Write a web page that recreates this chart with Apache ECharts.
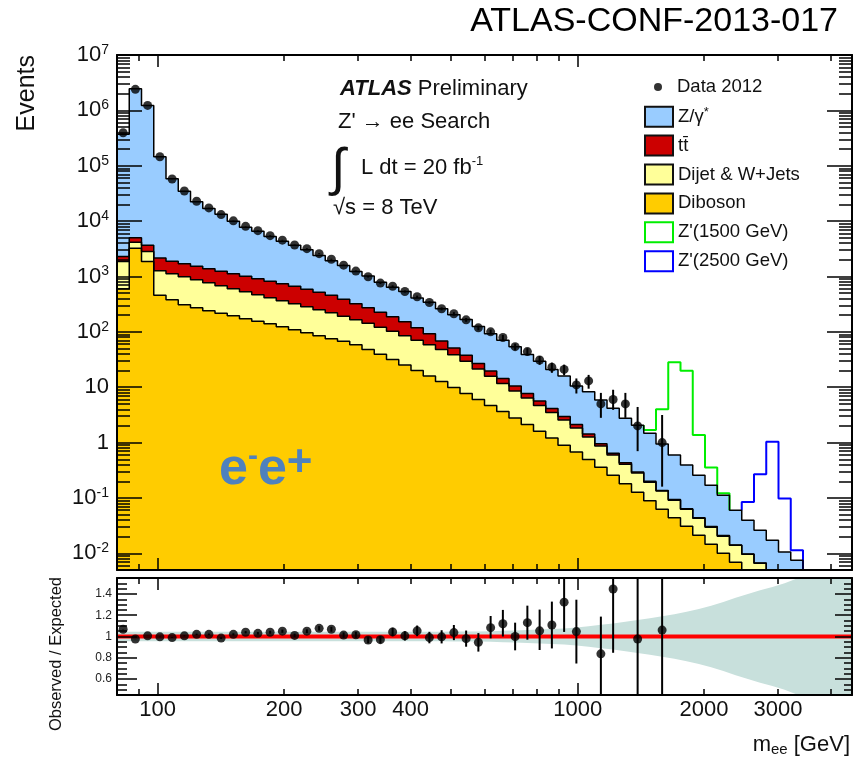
<!DOCTYPE html>
<html>
<head>
<meta charset="utf-8">
<script src="https://cdn.jsdelivr.net/npm/echarts@6/dist/echarts.min.js"></script>
<style>
html, body { margin: 0; padding: 0; background: #fff; }
#chart { width: 856px; height: 764px; }
</style>
</head>
<body>
<div id="chart"></div>
<script>
// ---- binning: 60 log-uniform bins in m_ee between 80 and 4500 GeV ----
const massRange = [80, 4500];
const nBins = 60;
const binEdges = Array.from({ length: nBins + 1 }, (_, i) =>
  massRange[0] * Math.pow(massRange[1] / massRange[0], i / nBins));
const binCenters = binEdges.slice(0, nBins).map((e, i) => Math.sqrt(e * binEdges[i + 1]));

// ---- observed events per bin (null = empty bin) ----
const dataObs = [394000, 2395000, 1230000, 145000, 57500, 34900, 22800, 17300, 13100, 10100,
  8050, 6730, 5460, 4530, 3710, 3180, 2580, 2050, 1600, 1250,
  990, 760, 665, 536, 430, 339, 261, 212, 165, 118,
  100, 79, 54, 44, 31, 23, 21, 11, 13, 5,
  6, 5, 2, null, 1, null, null, null, null, null,
  null, null, null, null, null, null, null, null, null, null];
const dataErrDown = [628, 1548, 1109, 381, 240, 187, 151, 132, 114, 100,
  90, 82, 74, 67, 61, 56, 51, 45, 40, 35,
  31, 28, 26, 23, 21, 18, 16, 15, 13, 11,
  10, 9, 7.3, 6.6, 5.6, 4.8, 4.6, 3.3, 3.6, 2.2,
  2.1, 2.2, 1.3, null, 0.84, null, null, null, null, null,
  null, null, null, null, null, null, null, null, null, null];
const dataErrUp = [628, 1548, 1109, 381, 240, 187, 151, 132, 114, 100,
  90, 82, 74, 67, 61, 56, 51, 45, 40, 35,
  31, 28, 26, 23, 21, 18, 16, 15, 13, 11,
  10, 9, 7.3, 6.6, 5.6, 4.8, 4.6, 3.4, 3.7, 2.9,
  3.0, 2.9, 2.4, null, 2.15, null, null, null, null, null,
  null, null, null, null, null, null, null, null, null, null];

// ---- expected background, cumulative stack heights per bin ----
// Z/gamma* + ttbar + dijet/W+jets + diboson
const stackTotal = [369000, 2454000, 1223000, 145400, 58100, 34700, 22350, 16960, 13300, 9900,
  7740, 6530, 5250, 4310, 3670, 3030, 2395, 1920, 1580, 1230,
  1024, 784, 638, 533, 408, 342, 262, 204, 168, 125,
  92, 70.5, 54, 39, 29.4, 20.8, 15.9, 10.5, 8.3, 5.88,
  4.16, 2.74, 2.05, 1.47, 0.94, 0.594, 0.392, 0.258, 0.170, 0.112,
  0.060, 0.0396, 0.0261, 0.0172, 0.01057, 0.00748, 0.004, 0.0025, 0.0015, 0.001];
// ttbar + dijet/W+jets + diboson
const stackTtbar = [2305, 5025, 3675, 2157, 1888, 1702, 1532, 1381, 1245, 1122,
  1010, 910, 820, 739, 666, 587, 519, 458, 387, 321,
  272, 225, 187, 152, 118, 92, 68.7, 51.3, 37.6, 26.9,
  19.7, 14.4, 10.5, 7.71, 5.64, 4.13, 2.96, 2.12, 1.43, 0.953,
  0.641, 0.434, 0.294, 0.200, 0.137, 0.0935, 0.064, 0.0438, 0.0305, 0.0209,
  0.0142, 0.0097, 0.0067, 0.0046, 0.0032, 0.0022, 0.0015, 0.001, 0.0007, 0.0005];
// dijet/W+jets + diboson
const stackDijet = [1870, 4170, 2840, 1270, 1122, 989, 873, 771, 680, 600,
  529, 468, 412, 364, 321, 283, 250, 221, 191, 165,
  143, 121, 102, 84.7, 70.2, 58.2, 48.2, 38.4, 29.3, 21.4,
  15.7, 11.7, 8.55, 6.39, 4.68, 3.49, 2.56, 1.83, 1.26, 0.865,
  0.594, 0.408, 0.281, 0.193, 0.133, 0.0912, 0.0627, 0.0431, 0.0296, 0.0203,
  0.0140, 0.0096, 0.0066, 0.0045, 0.0031, 0.0021, 0.0015, 0.001, 0.0007, 0.0005];
// diboson
const stackDiboson = [600, 3240, 1870, 458, 379, 308, 272, 240, 216, 195,
  172, 155, 140, 123, 109, 96, 84.7, 74.7, 67.3, 58.2,
  48.2, 39.2, 31.8, 25.3, 20.1, 16.0, 12.7, 9.9, 7.7, 6.0,
  4.68, 3.64, 2.78, 2.12, 1.61, 1.21, 0.90, 0.673, 0.493, 0.360,
  0.258, 0.181, 0.127, 0.0893, 0.0627, 0.0440, 0.0308, 0.0212, 0.0146, 0.0100,
  0.00689, 0.0047, 0.0032, 0.0022, 0.0015, 0.001, 0.0007, 0.0005, 0.0003, 0.0002];

// ---- Z' signal events on top of the background (null = no signal) ----
const zPrime1500 = [...Array(43).fill(null), 0.22, 3.05, 27.7, 19.5, 1.11, 0.186, 0.01, ...Array(10).fill(null)];
const zPrime2500 = [...Array(51).fill(null), 0.045, 0.243, 1.018, 0.087, 0.0039, ...Array(4).fill(null)];

// ---- ratio panel ----
const ratioObsExp = [1.068, 0.976, 1.006, 0.997, 0.99, 1.006, 1.02, 1.02, 0.985, 1.02,
  1.04, 1.03, 1.04, 1.05, 1.01, 1.05, 1.077, 1.068, 1.013, 1.016,
  0.967, 0.97, 1.043, 1.006, 1.053, 0.99, 0.997, 1.037, 0.98, 0.945,
  1.083, 1.12, 1.0, 1.13, 1.053, 1.108, 1.323, 1.046, null, 0.837,
  1.447, null, 0.976, null, 1.06, null, null, null, null, null,
  null, null, null, null, null, null, null, null, null, null];
const ratioErrDown = [0.002, 0.001, 0.001, 0.003, 0.004, 0.005, 0.007, 0.008, 0.009, 0.01,
  0.011, 0.012, 0.014, 0.015, 0.017, 0.018, 0.021, 0.023, 0.025, 0.028,
  0.031, 0.035, 0.04, 0.044, 0.05, 0.054, 0.062, 0.071, 0.076, 0.087,
  0.10, 0.12, 0.13, 0.16, 0.18, 0.22, 0.28, 0.30, null, 0.40,
  0.60, null, 0.63, null, 0.90, null, null, null, null, null,
  null, null, null, null, null, null, null, null, null, null];
const ratioErrUp = [0.002, 0.001, 0.001, 0.003, 0.004, 0.005, 0.007, 0.008, 0.009, 0.01,
  0.011, 0.012, 0.014, 0.015, 0.017, 0.018, 0.021, 0.023, 0.025, 0.028,
  0.031, 0.035, 0.04, 0.044, 0.05, 0.054, 0.062, 0.071, 0.076, 0.087,
  0.11, 0.13, 0.13, 0.16, 0.20, 0.22, 0.30, 0.30, null, 0.35,
  0.60, null, 1.30, null, 2.40, null, null, null, null, null,
  null, null, null, null, null, null, null, null, null, null];
// half-width of the systematic uncertainty band around 1
const systHalfWidth = [0.045, 0.045, 0.045, 0.045, 0.045, 0.045, 0.045, 0.045, 0.045, 0.045,
  0.045, 0.045, 0.045, 0.045, 0.045, 0.045, 0.045, 0.045, 0.045, 0.045,
  0.045, 0.045, 0.045, 0.045, 0.045, 0.045, 0.045, 0.046, 0.047, 0.048,
  0.05, 0.053, 0.056, 0.06, 0.065, 0.07, 0.075, 0.085, 0.097, 0.11,
  0.123, 0.138, 0.155, 0.172, 0.19, 0.21, 0.233, 0.258, 0.29, 0.325,
  0.365, 0.4, 0.435, 0.465, 0.5, 0.545, 0.59, 0.64, 0.69, 0.74];

// ---- axis ticks and labels ----
const eventDecades = [0.01, 0.1, 1, 10, 100, 1e3, 1e4, 1e5, 1e6, 1e7];
const eventRange = [0.005, 1e7];
const massLabels = [100, 200, 300, 400, 1000, 2000, 3000];
const massMajorTicks = [100, 1000];
const massMinorTicks = [90, 200, 300, 400, 500, 600, 700, 800, 900, 2000, 3000, 4000];
const ratioRange = [0.45, 1.55];
const ratioLabels = [0.6, 0.8, 1, 1.2, 1.4];

const eventMinorTicks = [];
for (let e = -3; e < 7; e++) {
  for (let k = 2; k <= 9; k++) {
    const v = +(k * Math.pow(10, e)).toPrecision(6);
    if (v >= eventRange[0] && v <= eventRange[1]) eventMinorTicks.push(v);
  }
}
const ratioMinorTicks = [];
for (let k = 10; k <= 30; k++) {
  const v = +(k * 0.05).toFixed(2);
  if (!ratioLabels.includes(v)) ratioMinorTicks.push(v);
}

// ---- helpers ----
const FONT = '"Liberation Sans", Arial, Helvetica, sans-serif';

function histPoints(values) {
  const pts = values.map((v, i) => [binEdges[i], v]);
  pts.push([binEdges[nBins], values[nBins - 1]]);
  return pts;
}
function signalPoints(sig) {
  const idx = sig.map((v, i) => (v == null ? -1 : i)).filter(i => i >= 0);
  const first = idx[0], last = idx[idx.length - 1];
  const pts = [[binEdges[first], stackTotal[first - 1]]];
  for (let i = first; i <= last; i++) pts.push([binEdges[i], stackTotal[i] + sig[i]]);
  pts.push([binEdges[last + 1], stackTotal[last] + sig[last]]);
  pts.push([binEdges[last + 1], stackTotal[last + 1]]);
  return pts;
}
function bandEdge(sign) {
  const pts = binCenters.map((x, i) => [x, 1 + sign * systHalfWidth[i]]);
  pts.unshift([massRange[0], 1 + sign * systHalfWidth[0]]);
  pts.push([massRange[1], 1 + sign * systHalfWidth[nBins - 1]]);
  return pts;
}
function errorBarItems(values, down, up) {
  const out = [];
  values.forEach((v, i) => {
    if (v != null && down[i] != null) out.push([binCenters[i], v - down[i], v + up[i]]);
  });
  return out;
}
function renderErrorBar(params, api) {
  const x = api.value(0);
  const lo = api.coord([x, Math.max(api.value(1), 1e-6)]);
  const hi = api.coord([x, api.value(2)]);
  const cs = params.coordSys;
  const clampY = y => Math.min(Math.max(y, cs.y), cs.y + cs.height);
  return {
    type: 'line',
    shape: { x1: lo[0], y1: clampY(lo[1]), x2: hi[0], y2: clampY(hi[1]) },
    style: { stroke: '#000', lineWidth: 2 }
  };
}

const tickStyle = { color: '#000', width: 1.5 };
function massAxis(grid, position, ticks, len, extra) {
  return Object.assign({
    type: 'log', logBase: 10, gridIndex: grid, position: position,
    min: massRange[0], max: massRange[1], z: 10,
    axisLine: { show: false, onZero: false },
    splitLine: { show: false }, minorTick: { show: false }, minorSplitLine: { show: false },
    axisTick: { show: true, inside: true, length: len, customValues: ticks, lineStyle: tickStyle },
    axisLabel: { show: false }
  }, extra || {});
}
const frameLine = { show: true, onZero: false, lineStyle: { color: '#000', width: 2 } };

function eventAxis(position, ticks, len, extra) {
  return Object.assign({
    type: 'log', logBase: 10, gridIndex: 0, position: position,
    min: eventRange[0], max: eventRange[1], z: 10,
    axisLine: { show: false, onZero: false },
    splitLine: { show: false }, minorTick: { show: false }, minorSplitLine: { show: false },
    axisTick: { show: true, inside: true, length: len, customValues: ticks, lineStyle: tickStyle },
    axisLabel: { show: false }
  }, extra || {});
}
function ratioAxis(position, ticks, len, extra) {
  return Object.assign({
    type: 'value', gridIndex: 1, position: position,
    min: ratioRange[0], max: ratioRange[1], z: 10,
    axisLine: { show: false, onZero: false },
    splitLine: { show: false },
    axisTick: { show: true, inside: true, length: len, customValues: ticks, lineStyle: tickStyle },
    axisLabel: { show: false }
  }, extra || {});
}

const stackLine = { color: '#000', width: 1.5 };
function stackSeries(name, values, fill) {
  return {
    name: name, type: 'line', xAxisIndex: 0, yAxisIndex: 0, z: 2,
    data: histPoints(values), step: 'end', showSymbol: false, symbol: 'none',
    lineStyle: stackLine, itemStyle: { color: fill },
    areaStyle: { color: fill, opacity: 1, origin: 'start' }, silent: true
  };
}

const chart = echarts.init(document.getElementById('chart'));

const option = {
  animation: false,
  backgroundColor: '#fff',
  textStyle: { fontFamily: FONT },
  grid: [
    { left: 117, top: 55, width: 735, height: 515 },
    { left: 117, top: 578, width: 735, height: 117 }
  ],
  xAxis: [
    massAxis(0, 'bottom', massMajorTicks, 12, { axisLine: frameLine }),
    massAxis(0, 'bottom', massMinorTicks, 6),
    massAxis(0, 'top', massMajorTicks, 12, { axisLine: frameLine }),
    massAxis(0, 'top', massMinorTicks, 6),
    massAxis(1, 'bottom', massMajorTicks, 12, {
      axisLine: frameLine,
      axisLabel: {
        show: true, customValues: massLabels, margin: 4,
        formatter: v => String(Math.round(v)),
        fontSize: 22, color: '#111', fontFamily: FONT
      }
    }),
    massAxis(1, 'bottom', massMinorTicks, 6),
    massAxis(1, 'top', massMajorTicks, 12, { axisLine: frameLine }),
    massAxis(1, 'top', massMinorTicks, 6)
  ],
  yAxis: [
    eventAxis('left', eventDecades, 25, {
      axisLine: frameLine,
      axisLabel: {
        show: true, customValues: eventDecades, margin: 8,
        fontSize: 22, lineHeight: 24, color: '#111', fontFamily: FONT,
        formatter: v => {
          const e = Math.round(Math.log10(v));
          if (e === 0) return '1';
          if (e === 1) return '10';
          return '10{sup|' + e + '}';
        },
        rich: { sup: { fontSize: 14, verticalAlign: 'top', color: '#111', fontFamily: FONT } }
      }
    }),
    eventAxis('left', eventMinorTicks, 13),
    eventAxis('right', eventDecades, 25, { axisLine: frameLine }),
    eventAxis('right', eventMinorTicks, 13),
    ratioAxis('left', ratioLabels, 20, {
      axisLine: frameLine,
      axisLabel: {
        show: true, customValues: ratioLabels, margin: 5,
        fontSize: 12, color: '#222', fontFamily: FONT,
        formatter: v => String(+v.toFixed(1))
      }
    }),
    ratioAxis('left', ratioMinorTicks, 10),
    ratioAxis('right', ratioLabels, 17, { axisLine: frameLine }),
    ratioAxis('right', ratioMinorTicks, 8)
  ],
  legend: [
    {
      data: [{ name: 'Data 2012', icon: 'circle', itemStyle: { color: '#000', borderWidth: 0 } }],
      left: 654, top: 76, orient: 'vertical', padding: 0,
      itemWidth: 8, itemHeight: 8,
      textStyle: { fontSize: 18.5, lineHeight: 22, color: '#111', fontFamily: FONT, padding: [0, 0, 0, 10] },
      selectedMode: false
    },
    {
      data: [
        { name: 'Z/γ*', icon: 'rect', itemStyle: { color: '#99ccff', borderColor: '#111', borderWidth: 2 } },
        { name: 'tt\u0304', icon: 'rect', itemStyle: { color: '#cc0000', borderColor: '#111', borderWidth: 2 } },
        { name: 'Dijet & W+Jets', icon: 'rect', itemStyle: { color: '#ffff99', borderColor: '#111', borderWidth: 2 } },
        { name: 'Diboson', icon: 'rect', itemStyle: { color: '#ffcc00', borderColor: '#111', borderWidth: 2 } },
        { name: "Z'(1500 GeV)", icon: 'rect', itemStyle: { color: '#fff', borderColor: '#00ee00', borderWidth: 2 } },
        { name: "Z'(2500 GeV)", icon: 'rect', itemStyle: { color: '#fff', borderColor: '#0000ff', borderWidth: 2 } }
      ],
      left: 644, top: 105.7, orient: 'vertical', padding: 0,
      itemWidth: 28, itemHeight: 20, itemGap: 6.9,
      formatter: name => (name === 'Z/γ*' ? 'Z/γ{s|*}' : name),
      textStyle: {
        fontSize: 18.5, lineHeight: 22, color: '#111', fontFamily: FONT,
        rich: { s: { fontSize: 13, verticalAlign: 'top', color: '#111', fontFamily: FONT } }
      },
      selectedMode: false
    }
  ],
  graphic: [
    { type: 'text', z: 100, x: 838, y: 22, style: { text: 'ATLAS-CONF-2013-017', align: 'right', verticalAlign: 'middle', font: '34px ' + FONT, fill: '#000' } },
    { type: 'text', z: 100, x: 27, y: 55, rotation: Math.PI / 2, style: { text: 'Events', align: 'right', verticalAlign: 'middle', font: '25px ' + FONT, fill: '#111' } },
    { type: 'text', z: 100, x: 56, y: 577, rotation: Math.PI / 2, style: { text: 'Observed / Expected', align: 'right', verticalAlign: 'middle', font: '16.5px ' + FONT, fill: '#111' } },
    {
      type: 'text', z: 100, x: 850, y: 745,
      style: {
        text: 'm{sub|ee} [GeV]', align: 'right', verticalAlign: 'middle',
        font: '22px ' + FONT, fill: '#111',
        rich: { sub: { fontSize: 15, padding: [10, 0, 0, 0], fill: '#111', fontFamily: FONT } }
      }
    },
    {
      type: 'text', z: 100, x: 340, y: 89,
      style: {
        text: '{a|ATLAS} Preliminary', align: 'left', verticalAlign: 'middle',
        font: '22px ' + FONT, fill: '#111',
        rich: { a: { fontSize: 22, fontWeight: 'bold', fontStyle: 'italic', fill: '#111', fontFamily: FONT } }
      }
    },
    { type: 'text', z: 100, x: 338, y: 122, style: { text: "Z' → ee Search", align: 'left', verticalAlign: 'middle', font: '22px ' + FONT, fill: '#111' } },
    { type: 'text', z: 100, x: 331, y: 171, style: { text: '∫', align: 'left', verticalAlign: 'middle', font: '52px ' + FONT, fill: '#111' } },
    {
      type: 'text', z: 100, x: 361, y: 168,
      style: {
        text: 'L dt = 20 fb{sup|-1}', align: 'left', verticalAlign: 'middle',
        font: '22px ' + FONT, fill: '#111', lineHeight: 26,
        rich: { sup: { fontSize: 13, verticalAlign: 'top', fill: '#111', fontFamily: FONT } }
      }
    },
    { type: 'text', z: 100, x: 333, y: 208, style: { text: '√s = 8 TeV', align: 'left', verticalAlign: 'middle', font: '22px ' + FONT, fill: '#111' } },
    {
      type: 'text', z: 100, x: 219, y: 470,
      style: {
        text: '{b|e}{m|-}{b|e}{p|+}', align: 'left', verticalAlign: 'middle',
        font: 'bold 52px ' + FONT, fill: '#4f81bd', lineHeight: 56,
        rich: {
          b: { fontSize: 52, fontWeight: 'bold', fill: '#4f81bd', fontFamily: FONT },
          m: { fontSize: 30, fontWeight: 'bold', verticalAlign: 'top', fill: '#4f81bd', fontFamily: FONT },
          p: { fontSize: 44, fontWeight: 'bold', verticalAlign: 'top', fill: '#4f81bd', fontFamily: FONT }
        }
      }
    }
  ],
  series: [
    {
      name: "Z'(1500 GeV)", type: 'line', xAxisIndex: 0, yAxisIndex: 0, z: 2,
      data: signalPoints(zPrime1500), step: 'end', showSymbol: false, symbol: 'none',
      lineStyle: { color: '#00ee00', width: 2 }, itemStyle: { color: '#00ee00' }, silent: true
    },
    {
      name: "Z'(2500 GeV)", type: 'line', xAxisIndex: 0, yAxisIndex: 0, z: 2,
      data: signalPoints(zPrime2500), step: 'end', showSymbol: false, symbol: 'none',
      lineStyle: { color: '#0000ff', width: 2 }, itemStyle: { color: '#0000ff' }, silent: true
    },
    stackSeries('Z/γ*', stackTotal, '#99ccff'),
    stackSeries('tt\u0304', stackTtbar, '#cc0000'),
    stackSeries('Dijet & W+Jets', stackDijet, '#ffff99'),
    stackSeries('Diboson', stackDiboson, '#ffcc00'),
    {
      name: 'Data 2012 errors', type: 'custom', xAxisIndex: 0, yAxisIndex: 0, z: 4,
      data: errorBarItems(dataObs, dataErrDown, dataErrUp), renderItem: renderErrorBar, silent: true
    },
    {
      name: 'Data 2012', type: 'scatter', xAxisIndex: 0, yAxisIndex: 0, z: 5,
      data: dataObs.map((v, i) => (v == null ? null : [binCenters[i], v])).filter(Boolean),
      symbol: 'circle', symbolSize: 9, itemStyle: { color: '#000' }, silent: true
    },
    // ratio panel: systematic band = fill under upper edge, blanked under lower edge
    {
      name: 'syst upper', type: 'line', xAxisIndex: 4, yAxisIndex: 4, z: 2,
      data: bandEdge(+1), showSymbol: false, symbol: 'none', lineStyle: { width: 0, opacity: 0 },
      areaStyle: { color: '#c8e0dc', opacity: 1, origin: 'start' }, silent: true
    },
    {
      name: 'syst lower', type: 'line', xAxisIndex: 4, yAxisIndex: 4, z: 2,
      data: bandEdge(-1), showSymbol: false, symbol: 'none', lineStyle: { width: 0, opacity: 0 },
      areaStyle: { color: '#ffffff', opacity: 1, origin: 'start' }, silent: true
    },
    {
      name: 'unity', type: 'line', xAxisIndex: 4, yAxisIndex: 4, z: 3,
      data: [[massRange[0], 1], [massRange[1], 1]],
      showSymbol: false, symbol: 'none', lineStyle: { color: '#ff0000', width: 4 }, silent: true
    },
    {
      name: 'ratio errors', type: 'custom', xAxisIndex: 4, yAxisIndex: 4, z: 4,
      data: errorBarItems(ratioObsExp, ratioErrDown, ratioErrUp), renderItem: renderErrorBar, silent: true
    },
    {
      name: 'ratio', type: 'scatter', xAxisIndex: 4, yAxisIndex: 4, z: 5,
      data: ratioObsExp.map((v, i) => (v == null ? null : [binCenters[i], v])).filter(Boolean),
      symbol: 'circle', symbolSize: 9, itemStyle: { color: '#000' }, silent: true
    }
  ]
};

chart.setOption(option);
</script>
</body>
</html>
